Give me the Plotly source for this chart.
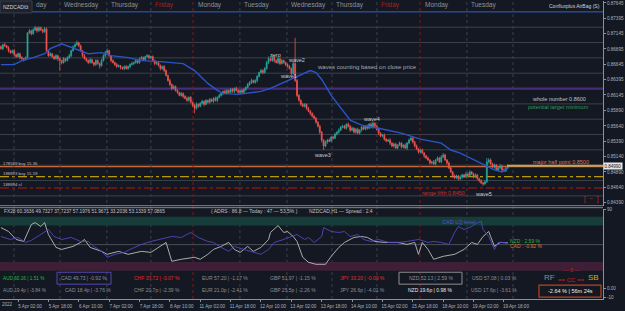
import plotly.graph_objects as go

# ---------------- data ----------------
# hourly NZDCAD candles (prices in points, /1e5), index 0 = 4 Apr 17:00
closes_pts = [
    86899, 86964, 86948, 86916, 86867, 86835, 86867, 86802, 86770, 86818,
    86754, 86737, 86721, 86754, 87159, 87191, 87142, 87207, 87240, 87191,
    87240, 87207, 87175, 87223, 86867, 86786, 86818, 86770, 86737, 86786,
    86737, 86705, 86673, 86737, 86705, 86754, 86786, 86867, 86932, 86964,
    86997, 86948, 86867, 86786, 86737, 86705, 86673, 86721, 86673, 86640,
    86705, 86656, 86624, 86705, 86786, 86835, 86867, 86786, 86705, 86673,
    86640, 86608, 86624, 86592, 86575, 86608, 86575, 86608, 86640, 86656,
    86673, 86705, 86673, 86737, 86754, 86721, 86770, 86786, 86754, 86770,
    86705, 86656, 86673, 86624, 86575, 86608, 86543, 86462, 86381, 86316,
    86251, 86284, 86219, 86187, 86138, 86170, 86122, 86089, 86057, 86106,
    86025, 85976, 85927, 85992, 85960, 86008, 86041, 85992, 86057, 86025,
    86073, 86041, 86089, 86057, 86106, 86138, 86170, 86203, 86170, 86219,
    86187, 86235, 86203, 86251, 86219, 86187, 86219, 86187, 86235, 86268,
    86316, 86349, 86381, 86349, 86381, 86446, 86511, 86543, 86511, 86575,
    86673, 86737, 86705, 86754, 86705, 86673, 86737, 86656, 86705, 86673,
    86640, 86608, 86575, 86495, 86656, 86381, 86138, 86057, 85992, 85960,
    85992, 85927, 85879, 85846, 85798, 85765, 85701, 85636, 85539, 85409,
    85312, 85377, 85409, 85393, 85458, 85441, 85506, 85539, 85571, 85620,
    85636, 85603, 85668, 85636, 85571, 85603, 85539, 85587, 85522, 85571,
    85620, 85587, 85636, 85603, 85668, 85620, 85684, 85636, 85587, 85522,
    85474, 85490, 85425, 85393, 85409, 85360, 85312, 85344, 85279, 85328,
    85360, 85296, 85328, 85279, 85360, 85409, 85441, 85377, 85312, 85263,
    85215, 85247, 85198, 85150, 85117, 85085, 85036, 85053, 85020, 85085,
    85117, 85053, 85134, 85166, 85085, 85036, 84955, 84891, 84826, 84793,
    84826, 84777, 84810, 84842, 84810, 84858, 84826, 84891, 84858, 84810,
    84842, 84777, 84745, 84712, 84696, 84729, 85053, 85085, 85020, 84972,
    85004, 84923, 84955, 84988, 84923, 84907, 84955, 84990,
]
first_open_pts = 86932
wick_up_pts = [
    20, 15, 30, 10, 25, 15, 20, 30, 15, 20,
    15, 25, 10, 20, 10, 30, 20, 25, 32, 15,
    25, 20, 15, 30, 20, 15, 25, 10, 20, 25,
    15, 20, 10, 25, 15, 20, 30, 15, 20, 25,
    35, 15, 20, 10, 25, 15, 20, 30, 15, 10,
    25, 20, 15, 30, 20, 25, 35, 15, 10, 20,
    15, 25, 20, 10, 15, 20, 25, 15, 20, 30,
    15, 25, 20, 15, 30, 20, 15, 25, 20, 15,
    20, 15, 25, 10, 20, 15, 25, 20, 15, 30,
    20, 25, 15, 20, 10, 25, 15, 20, 30, 15,
    20, 15, 25, 30, 15, 20, 25, 15, 20, 10,
    25, 15, 20, 30, 15, 25, 20, 15, 30, 20,
    15, 25, 20, 15, 30, 20, 15, 25, 20, 15,
    25, 20, 30, 15, 20, 25, 15, 30, 20, 25,
    30, 35, 20, 40, 25, 20, 30, 15, 25, 20,
    15, 20, 25, 20, 30, 421, 25, 20, 15, 25,
    20, 15, 25, 20, 15, 25, 20, 15, 25, 20,
    15, 25, 20, 30, 15, 20, 25, 15, 30, 20,
    25, 20, 15, 30, 20, 25, 15, 20, 25, 15,
    20, 30, 15, 25, 20, 30, 35, 15, 20, 25,
    15, 20, 25, 15, 20, 30, 15, 25, 20, 15,
    25, 20, 15, 30, 20, 25, 30, 15, 20, 25,
    15, 20, 25, 15, 20, 25, 15, 20, 30, 15,
    25, 20, 30, 35, 20, 15, 25, 20, 15, 25,
    20, 15, 25, 20, 15, 30, 20, 25, 15, 20,
    25, 15, 20, 25, 15, 20, 65, 30, 25, 20,
    25, 15, 20, 30, 20, 25, 15, 20,
]
wick_dn_pts = [
    15, 25, 20, 10, 30, 20, 15, 25, 20, 15,
    25, 20, 30, 15, 10, 20, 25, 15, 20, 30,
    15, 20, 25, 15, 30, 20, 15, 25, 20, 15,
    40, 162, 30, 20, 25, 15, 20, 25, 15, 20,
    15, 25, 20, 30, 15, 20, 25, 15, 20, 30,
    20, 15, 48, 20, 15, 25, 15, 20, 30, 15,
    25, 20, 15, 30, 20, 25, 15, 20, 25, 15,
    20, 15, 25, 20, 15, 25, 20, 15, 30, 20,
    15, 25, 20, 15, 30, 20, 25, 15, 20, 25,
    30, 15, 20, 25, 15, 20, 30, 15, 25, 20,
    15, 30, 81, 20, 25, 15, 20, 30, 15, 20,
    20, 15, 25, 20, 30, 15, 20, 25, 15, 20,
    25, 15, 20, 30, 15, 20, 25, 15, 20, 25,
    15, 20, 25, 15, 20, 30, 15, 20, 25, 15,
    20, 25, 15, 20, 30, 15, 25, 20, 15, 20,
    25, 20, 15, 30, 20, 25, 30, 20, 25, 15,
    20, 25, 15, 30, 20, 15, 25, 20, 30, 40,
    65, 20, 25, 15, 20, 25, 15, 20, 25, 15,
    20, 15, 25, 20, 30, 15, 20, 25, 15, 20,
    25, 15, 20, 25, 15, 20, 25, 15, 20, 30,
    20, 15, 25, 20, 15, 30, 20, 25, 15, 20,
    15, 25, 20, 15, 30, 20, 15, 25, 20, 15,
    25, 20, 15, 30, 20, 15, 25, 20, 15, 25,
    20, 15, 25, 20, 15, 30, 20, 15, 25, 20,
    15, 25, 20, 30, 15, 20, 25, 15, 20, 25,
    20, 15, 25, 20, 32, 15, 20, 25, 15, 20,
    25, 15, 20, 15, 25, 20, 15, 20,
]

# moving average (blue line)
ma_idx = [0, 7, 11, 17, 23, 26, 32, 35, 42, 46, 53, 58, 67, 74, 84, 90, 96, 102, 109, 114,
          117, 125, 130, 137, 142, 149, 154, 159, 163, 166, 169, 174, 179, 184, 190, 199, 211,
          221, 232, 237, 242, 253, 260, 264, 267]
ma_pts = [86640, 86640, 86705, 86754, 86818, 86899, 86980, 86948, 86867, 86818, 86835, 86786,
          86754, 86705, 86689, 86673, 86656, 86543, 86333, 86219, 86170, 86154, 86170, 86203,
          86251, 86349, 86430, 86495, 86543, 86511, 86397, 86138, 85927, 85733, 85652, 85603,
          85522, 85425, 85360, 85247, 85198, 85036, 84923, 84891, 84955]

# currency strength lines (lower pane)
nzd_idx = [0, 4, 8, 12, 16, 18, 21, 23, 25, 29, 32, 38, 42, 44, 47, 53, 56, 62, 67, 74,
           79, 84, 87, 90, 95, 102, 105, 109, 112, 116, 120, 123, 126, 130, 133, 137, 141, 142, 145, 146,
           149, 151, 154, 156, 159, 162, 166, 171, 174, 178, 181, 186, 190, 193, 197, 202, 209, 214, 218, 220,
           222, 225, 228, 233, 239, 244, 248, 251, 254, 257, 258, 260, 263, 267]
nzd_vals = [69.5, 65.0, 55.9, 53.6, 73.0, 75.2, 70.7, 75.2, 61.6, 46.8,
            44.5, 48.0, 52.5, 55.9, 46.8, 42.3, 38.9, 42.3, 38.9, 42.3,
            41.1, 48.0, 52.5, 30.9, 33.2, 35.5, 33.2, 38.9, 44.5, 48.0,
            52.5, 44.5, 41.1, 48.0, 42.3, 46.8, 55.9, 63.9, 69.5, 71.8,
            63.9, 65.0, 59.3, 53.6, 35.5, 29.8, 27.5, 27.5, 36.6, 46.8,
            52.5, 58.2, 59.3, 58.2, 53.6, 52.5, 52.5, 50.2, 52.5, 38.9,
            52.5, 44.5, 33.2, 36.6, 38.9, 44.5, 52.5, 50.2, 59.3, 65.0,
            59.3, 48.0, 52.5, 52.1]
cad_idx = [0, 5, 9, 13, 16, 19, 23, 25, 28, 32, 37, 42, 46, 49, 53, 56, 60, 65, 68, 74,
           79, 84, 90, 95, 100, 104, 109, 112, 116, 120, 123, 128, 133, 137, 141, 144, 149, 153, 156, 160,
           162, 165, 169, 170, 174, 178, 181, 184, 188, 191, 195, 199, 204, 209, 214, 220, 225, 228, 232, 236,
           239, 241, 244, 248, 251, 253, 254, 257, 260, 262, 265, 267]
cad_vals = [59.3, 55.9, 58.2, 52.5, 54.8, 59.3, 65.0, 67.3, 59.3, 55.9,
            58.2, 53.6, 53.6, 48.0, 42.3, 35.5, 38.9, 41.1, 44.5, 50.2,
            53.6, 55.9, 59.3, 58.2, 63.9, 58.2, 53.6, 52.5, 46.8, 42.3,
            48.0, 44.5, 41.1, 38.9, 44.5, 52.5, 55.9, 59.3, 61.6, 55.9,
            58.2, 52.5, 59.3, 69.5, 65.0, 63.9, 65.0, 59.3, 61.6, 55.9,
            53.6, 55.9, 52.5, 52.5, 53.6, 55.9, 52.5, 53.6, 52.5, 50.2,
            63.9, 70.7, 67.3, 70.7, 75.2, 76.4, 67.3, 59.3, 44.5, 52.5,
            52.5, 51.4]

price_ticks = [0.87645, 0.87395, 0.87145, 0.86895, 0.86645, 0.86395, 0.86145,
               0.85890, 0.85640, 0.85390, 0.85140, 0.84890, 0.84640, 0.84390]
level_prices = [0.8725, 0.8700, 0.8675, 0.8650, 0.8600, 0.8575, 0.8550, 0.8525, 0.8500, 0.8475, 0.8450]
blue_level = 0.8750
purple_level = 0.8625
buy1_price = 0.84978
buy2_price = 0.84814
sl_price = 0.84627
bid_price = 0.84990

time_tick_idx = [9, 25, 41, 57, 73, 89, 105, 121, 137, 153, 169, 185, 201, 217, 233, 249, 265]
time_tick_text = ["5 Apr 02:00", "5 Apr 18:00", "6 Apr 10:00", "7 Apr 02:00", "7 Apr 18:00",
                  "8 Apr 10:00", "11 Apr 02:00", "11 Apr 18:00", "12 Apr 10:00", "13 Apr 02:00",
                  "13 Apr 18:00", "14 Apr 10:00", "15 Apr 02:00", "15 Apr 18:00", "18 Apr 10:00",
                  "19 Apr 02:00", "19 Apr 18:00"]
day_sep_idx = [6.85, 31.1, 55.8, 79.0, 101.2, 125.9, 150.7, 174.4, 198.1, 220.8, 245.5, 269.8]
day_sep_weekend = [False, False, False, False, True, False, False, False, False, True, False, False]
day_names = ["day", "Wednesday", "Thursday", "Friday", "Monday", "Tuesday",
             "Wednesday", "Thursday", "Friday", "Monday", "Tuesday"]

ccy_names = ["AUD", "CAD", "CHF", "EUR", "GBP", "JPY", "NZD", "USD"]
ccy_strength = [60.16, 49.73, 37.72, 57.20, 51.97, 33.20, 52.13, 57.08]
ccy_strength_chg = [1.51, -0.92, -0.07, -1.17, -1.15, -0.09, 2.59, 0.03]
ccy_range_pips = [19.4, 18.4, 20.7, 21.0, 25.5, 26.6, 19.6, 17.6]
ccy_range_chg = [-3.84, -3.76, -2.39, -2.41, -2.26, -4.01, 0.98, -3.61]
fx28_vals = ["60.3636", "49.7327", "37.7237", "57.1976", "51.9671", "33.2036", "53.1339", "57.0865"]

# ---------------- styling ----------------
W, H = 625, 311
X_END = 603 / W
XR = [-0.5, 317.2]
BG = "#141822"
GRID = "#3d414b"
AX = "#8c9097"
TXT = "#aeb2b9"
GRAYTXT = "#8a8f97"
BULL = "#26a69a"
BEAR = "#ef5350"
FONT = "Liberation Sans, Arial, sans-serif"


def pxx(px):
    return px / W


def pxy(py):
    return (H - py) / H


idx = list(range(len(closes_pts)))
opens_pts = [first_open_pts] + closes_pts[:-1]
highs_pts = [max(o, c) + w for o, c, w in zip(opens_pts, closes_pts, wick_up_pts)]
lows_pts = [min(o, c) - w for o, c, w in zip(opens_pts, closes_pts, wick_dn_pts)]
to_p = lambda arr: [v / 1e5 for v in arr]

fig = go.Figure()
fig.add_trace(go.Candlestick(
    x=idx, open=to_p(opens_pts), high=to_p(highs_pts), low=to_p(lows_pts), close=to_p(closes_pts),
    xaxis="x", yaxis="y", whiskerwidth=0, showlegend=False, hoverinfo="skip",
    increasing=dict(line=dict(color=BULL, width=0.8), fillcolor=BULL),
    decreasing=dict(line=dict(color=BEAR, width=0.8), fillcolor=BEAR)))
fig.add_trace(go.Scatter(x=ma_idx, y=to_p(ma_pts), mode="lines", xaxis="x", yaxis="y",
                         line=dict(color="#2a55c8", width=1.4), showlegend=False, hoverinfo="skip"))
fig.add_trace(go.Scatter(x=nzd_idx, y=nzd_vals, mode="lines", xaxis="x2", yaxis="y2",
                         line=dict(color="#bcbcbc", width=0.9), showlegend=False, hoverinfo="skip"))
fig.add_trace(go.Scatter(x=cad_idx, y=cad_vals, mode="lines", xaxis="x2", yaxis="y2",
                         line=dict(color="#5248c2", width=0.9), showlegend=False, hoverinfo="skip"))

shapes = []
for p in level_prices:
    shapes.append(dict(type="line", xref="paper", x0=0, x1=X_END, yref="y", y0=p, y1=p,
                       line=dict(color=GRID, width=1), layer="below"))
shapes.append(dict(type="line", xref="paper", x0=0, x1=X_END, yref="y", y0=blue_level, y1=blue_level,
                   line=dict(color="#2f62c8", width=1), layer="below"))
shapes.append(dict(type="line", xref="paper", x0=0, x1=X_END, yref="y", y0=purple_level, y1=purple_level,
                   line=dict(color="#4a2b78", width=2.2), layer="below"))
shapes.append(dict(type="line", xref="paper", x0=0, x1=X_END, yref="y", y0=buy1_price, y1=buy1_price,
                   line=dict(color="#c8693a", width=1.3), layer="below"))
shapes.append(dict(type="line", xref="paper", x0=0, x1=X_END, yref="y", y0=buy2_price, y1=buy2_price,
                   line=dict(color="#b89a0a", width=1.1, dash="dashdot"), layer="below"))
shapes.append(dict(type="line", xref="paper", x0=0, x1=X_END, yref="y", y0=sl_price, y1=sl_price,
                   line=dict(color="#b31616", width=1.1, dash="dashdot"), layer="below"))
shapes.append(dict(type="line", xref="paper", x0=pxx(507), x1=X_END, yref="y", y0=bid_price, y1=bid_price,
                   line=dict(color="#c9a25a", width=2)))
for s, wk in zip(day_sep_idx, day_sep_weekend):
    shapes.append(dict(type="line", xref="x", x0=s, x1=s, yref="paper", y0=pxy(300), y1=1,
                       line=dict(color="#7a1c1c" if wk else "#3c414b", width=1, dash="dot"), layer="below"))
for py in (206, 208):
    shapes.append(dict(type="line", xref="paper", x0=0, x1=X_END, yref="paper", y0=pxy(py), y1=pxy(py),
                       line=dict(color="#80858d", width=1)))
shapes.append(dict(type="rect", xref="paper", x0=0, x1=X_END, yref="y2", y0=72, y1=82,
                   fillcolor="#173d3b", line=dict(width=0), layer="below"))
shapes.append(dict(type="rect", xref="paper", x0=0, x1=X_END, yref="y2", y0=20, y1=30,
                   fillcolor="#3e1f37", line=dict(width=0), layer="below"))
shapes.append(dict(type="line", xref="paper", x0=0, x1=X_END, yref="y2", y0=50, y1=50,
                   line=dict(color="#4a4e57", width=1), layer="below"))
shapes.append(dict(type="rect", xref="paper", yref="paper", x0=pxx(57), x1=pxx(111), y0=pxy(285), y1=pxy(273),
                   line=dict(color="#5547b5", width=1)))
shapes.append(dict(type="rect", xref="paper", yref="paper", x0=pxx(399), x1=pxx(462), y0=pxy(285), y1=pxy(273),
                   line=dict(color="#8e8e8e", width=1)))
shapes.append(dict(type="rect", xref="paper", yref="paper", x0=pxx(539), x1=pxx(601), y0=pxy(298), y1=pxy(286),
                   fillcolor=BG, line=dict(color="#b8431f", width=1.2)))
# symbol box top-left
shapes.append(dict(type="rect", xref="paper", yref="paper", x0=0, x1=pxx(32), y0=pxy(12), y1=1,
                   fillcolor="#1e222d", line=dict(color="#3a3e48", width=1)))

ann = []


def A(text, x, y, size, color, xanchor="center", xref="paper", yref="paper", **kw):
    d = dict(text=text, x=x, y=y, xref=xref, yref=yref, xanchor=xanchor, yanchor="middle",
             showarrow=False, font=dict(size=size, color=color, family=FONT))
    d.update(kw)
    ann.append(d)


# day labels on top
for k, (s, name) in enumerate(zip(day_sep_idx, day_names)):
    if k == 0:
        A(name, pxx(33.5), pxy(4.5), 6.5, "#8d929a", xanchor="left")
    else:
        A(name, s + 1.3, pxy(4.5), 6.5, "#a3231f" if name == "Friday" else "#8d929a", xanchor="left", xref="x")
A("NZDCAD", pxx(1), pxy(6), 5, "#d0d3d8", xanchor="left")
A("\u29c9", pxx(26), pxy(6), 6, "#c0c3c8")
A("Confluxplus AirBag (S)", pxx(602), pxy(5), 5, "#d0d3d8", xanchor="right")

# upper pane texts
A("zero", 144.4, 0.86802, 5.5, "#c8cbd0", xref="x", yref="y")
A("wave2", 155.5, 0.86721, 5.5, "#c8cbd0", xref="x", yref="y")
A("wave1", 151.5, 0.86462, 5.5, "#c8cbd0", xref="x", yref="y")
A("waves counting based on close price", 193, 0.86608, 6, "#a4a8b0", xref="x", yref="y")
A("whole number 0.8600", 294, 0.86073, 5.5, "#c0c3c8", xref="x", yref="y")
A("potential target minimum", 293.5, 0.85944, 5.5, "#2e9e5e", xref="x", yref="y")
A("wave4", 195, 0.85749, 5.5, "#c8cbd0", xref="x", yref="y")
A("wave3", 169.5, 0.85166, 5.5, "#c8cbd0", xref="x", yref="y")
A("major half point 0.8500", 295, 0.85053, 5.5, "#e0704e", xref="x", yref="y")
A("range fifth 0.8450", 233.4, 0.84550, 5.5, "#c83030", xref="x", yref="y")
A("wave5", 254.5, 0.84534, 5.5, "#c8cbd0", xref="x", yref="y")
A("178589 buy 15.36", pxx(0.5), pxy(164), 4.3, "#b8bcc2", xanchor="left")
A("188893 buy 15.59", pxx(0.5), pxy(173.5), 4.3, "#b8bcc2", xanchor="left")
A("188894 sl", pxx(0.5), pxy(185), 4.3, "#b8bcc2", xanchor="left")
A("[  \u2212  ]", pxx(591), pxy(199), 6.5, "#c03030")
A(f"{bid_price:.5f}", X_END, bid_price, 4.5, "#111111", xanchor="left", yref="y",
  bgcolor="#e6e6e6", borderpad=0.5)

# lower pane texts
A("FX28 " + " ".join(fx28_vals), pxx(2), pxy(211.5), 4.8, "#c0c3c8", xanchor="left")
A("( ADRS : 86.8 \u2014 Today : 47 \u2014 53.5% )", pxx(254), pxy(211.5), 5, "#c0c3c8")
A("NZDCAD,H1 \u2014 Spread : 2.4", pxx(307), pxy(211.5), 5, "#c0c3c8", xanchor="left")
A("CAD LQ level", pxx(458), pxy(222), 5.5, "#5b52c9")
A("NZD : 2.59 %", pxx(508), pxy(242), 5, "#2fb34a", xanchor="left")
A("CAD : -0.92 %", pxx(508), pxy(246.5), 5, "#e0702a", xanchor="left")

row1_x = [None, 84, 157, 225, 293, 362, 431, 494]
row2_x = [None, 88, 157, 225, 293, 362, 430, 494]
row1_col = ["#1fbf3f", GRAYTXT, "#e8282b", GRAYTXT, GRAYTXT, "#e8282b", GRAYTXT, GRAYTXT]
row2_col = [GRAYTXT] * 6 + ["#e8e8e8", GRAYTXT]
for k, name in enumerate(ccy_names):
    t1 = f"{name} {ccy_strength[k]:.2f} | {ccy_strength_chg[k]:.2f} %"
    t2 = f"{name} {ccy_range_pips[k]:.1f}p | {ccy_range_chg[k]:.2f} %"
    if row1_x[k] is None:
        A(t1, pxx(0.5), pxy(279), 4.7, row1_col[k], xanchor="left")
        A(t2, pxx(0.5), pxy(291), 4.7, row2_col[k], xanchor="left")
    else:
        A(t1, pxx(row1_x[k]), pxy(279), 5, row1_col[k])
        A(t2, pxx(row2_x[k]), pxy(291), 5, row2_col[k])

A("RF", pxx(549.5), pxy(278.5), 8, "#8a8f96")
A("--- 0 ---", pxx(571), pxy(271), 5.5, "#d02020")
A("== CC ==", pxx(571), pxy(280.5), 6, "#d02020")
A("SB", pxx(593), pxy(278.5), 8, "#d4b000")
A("-2.64 % | 56m 24s", pxx(570), pxy(292), 5.5, "#f0f0f0")
A("2022", pxx(0.3), pxy(305.5), 4.5, TXT, xanchor="left")

fig.update_layout(
    width=W, height=H, margin=dict(l=0, r=0, t=0, b=0),
    paper_bgcolor=BG, plot_bgcolor=BG, showlegend=False,
    font=dict(family=FONT, color=TXT),
    xaxis=dict(domain=[0, X_END], range=XR, showticklabels=False, showgrid=False, zeroline=False,
               rangeslider=dict(visible=False), anchor="y", fixedrange=True),
    yaxis=dict(domain=[pxy(206), 1], range=[0.84340, 0.87677], side="right", anchor="x",
               tickvals=price_ticks, ticktext=[f"{v:.5f}" for v in price_ticks],
               showgrid=False, zeroline=False, showline=True, linecolor=AX, linewidth=1,
               ticks="outside", ticklen=2, tickcolor=AX,
               tickfont=dict(size=4.6, color=TXT, family=FONT)),
    xaxis2=dict(domain=[0, X_END], range=XR, anchor="y2", tickvals=time_tick_idx, ticktext=time_tick_text,
                ticks="outside", ticklen=2, tickcolor=AX, showline=True, linecolor=AX, linewidth=1,
                showgrid=False, zeroline=False, ticklabelshift=12,
                tickfont=dict(size=4.6, color=TXT, family=FONT)),
    yaxis2=dict(domain=[pxy(300), pxy(209)], range=[-12.3, 91.14], side="right", anchor="x2",
                tickvals=[90, 0, -10], ticktext=["90", "0.00", "-10"], showgrid=False, zeroline=False,
                showline=True, linecolor=AX, linewidth=1, ticks="outside", ticklen=2, tickcolor=AX,
                tickfont=dict(size=4.6, color=TXT, family=FONT)),
    shapes=shapes, annotations=ann,
)

fig.write_html("out.html")
